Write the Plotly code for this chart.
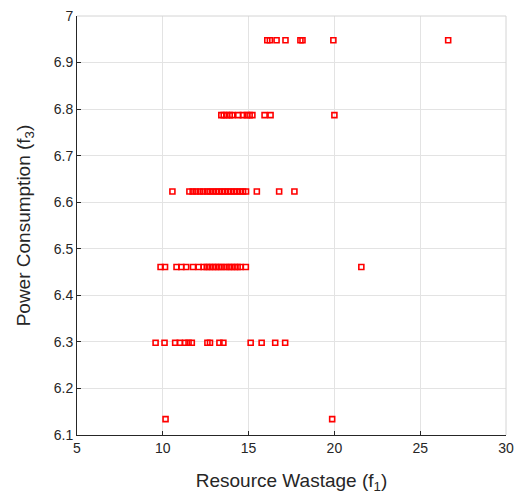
import plotly.graph_objects as go

# Power consumption levels (f3) and the resource wastage (f1) values found at each level
level_values = [6.948, 6.787, 6.623, 6.461, 6.298, 6.134]

x_at_6948 = [16.09, 16.24, 16.63, 17.15, 18.02, 18.14, 19.94, 26.63]
x_at_6787 = [13.41, 13.55, 13.72, 13.90, 14.05, 14.40, 14.67, 14.90, 15.06, 15.22,
             15.93, 16.28, 20.00]
x_at_6623 = [10.56, 11.55, 11.74, 11.95, 12.15, 12.35, 12.56, 12.73, 12.92, 13.11,
             13.28, 13.46, 13.63, 13.81, 13.98, 14.16, 14.33, 14.51, 14.68, 14.85,
             15.48, 16.78, 17.67]
x_at_6461 = [9.87, 10.13, 10.80, 11.08, 11.36, 11.76, 12.09, 12.38, 12.56, 12.73,
             12.91, 13.08, 13.26, 13.43, 13.65, 13.84, 14.01, 14.19, 14.36, 14.53,
             14.84, 21.57]
x_at_6298 = [9.58, 10.10, 10.72, 10.99, 11.30, 11.50, 11.69, 12.60, 12.75, 13.30,
             13.53, 15.12, 15.76, 16.55, 17.13]
x_at_6134 = [10.16, 19.87]

x_groups = [x_at_6948, x_at_6787, x_at_6623, x_at_6461, x_at_6298, x_at_6134]

x_ticks = [5, 10, 15, 20, 25, 30]
y_ticks = [6.1, 6.2, 6.3, 6.4, 6.5, 6.6, 6.7, 6.8, 6.9, 7.0]
y_tick_text = ["6.1", "6.2", "6.3", "6.4", "6.5", "6.6", "6.7", "6.8", "6.9", "7"]

xs, ys = [], []
for lvl, grp in zip(level_values, x_groups):
    for v in grp:
        xs.append(v)
        ys.append(lvl)

FONT = "Arial, Liberation Sans, Helvetica, sans-serif"
AX = "#262626"
GRID = "#e3e3e3"

fig = go.Figure(go.Scatter(
    x=xs, y=ys, mode="markers",
    marker=dict(symbol="square-open", size=5, color="#ff0000",
                line=dict(width=1.6, color="#ff0000")),
    hoverinfo="x+y", showlegend=False,
))

fig.update_layout(
    width=522, height=495,
    margin=dict(l=77, r=16, t=8, b=59),
    paper_bgcolor="white", plot_bgcolor="white",
    font=dict(family=FONT, color=AX, size=14),
    xaxis=dict(
        range=[5, 30], tickvals=x_ticks, ticks="inside", ticklen=4,
        tickcolor=AX, showline=True, linecolor=AX, linewidth=1,
        showgrid=True, gridcolor=GRID, gridwidth=1, zeroline=False,
        tickfont=dict(size=14, color=AX), ticklabeloverflow="allow",
        title=dict(text="Resource Wastage (f<sub>1</sub>)", font=dict(size=19, color=AX),
                   standoff=18),
    ),
    yaxis=dict(
        range=[6.1, 7.0], tickvals=y_ticks, ticktext=y_tick_text, ticks="inside",
        ticklen=4, tickcolor=AX, showline=True, linecolor=AX, linewidth=1,
        showgrid=True, gridcolor=GRID, gridwidth=1, zeroline=False,
        tickfont=dict(size=14, color=AX), ticklabeloverflow="allow",
        title=dict(text="Power Consumption (f<sub>3</sub>)", font=dict(size=19, color=AX),
                   standoff=18),
    ),
    shapes=[
        dict(type="line", xref="paper", yref="paper", x0=0, x1=1, y0=1, y1=1,
             line=dict(color="#d4d4d4", width=1)),
        dict(type="line", xref="paper", yref="paper", x0=1, x1=1, y0=0, y1=1,
             line=dict(color="#d4d4d4", width=1)),
    ],
)

fig.write_html(
    "out.html",
    config={"displayModeBar": False},
    post_script="document.body.style.margin='0';document.body.style.overflow='hidden';",
)
